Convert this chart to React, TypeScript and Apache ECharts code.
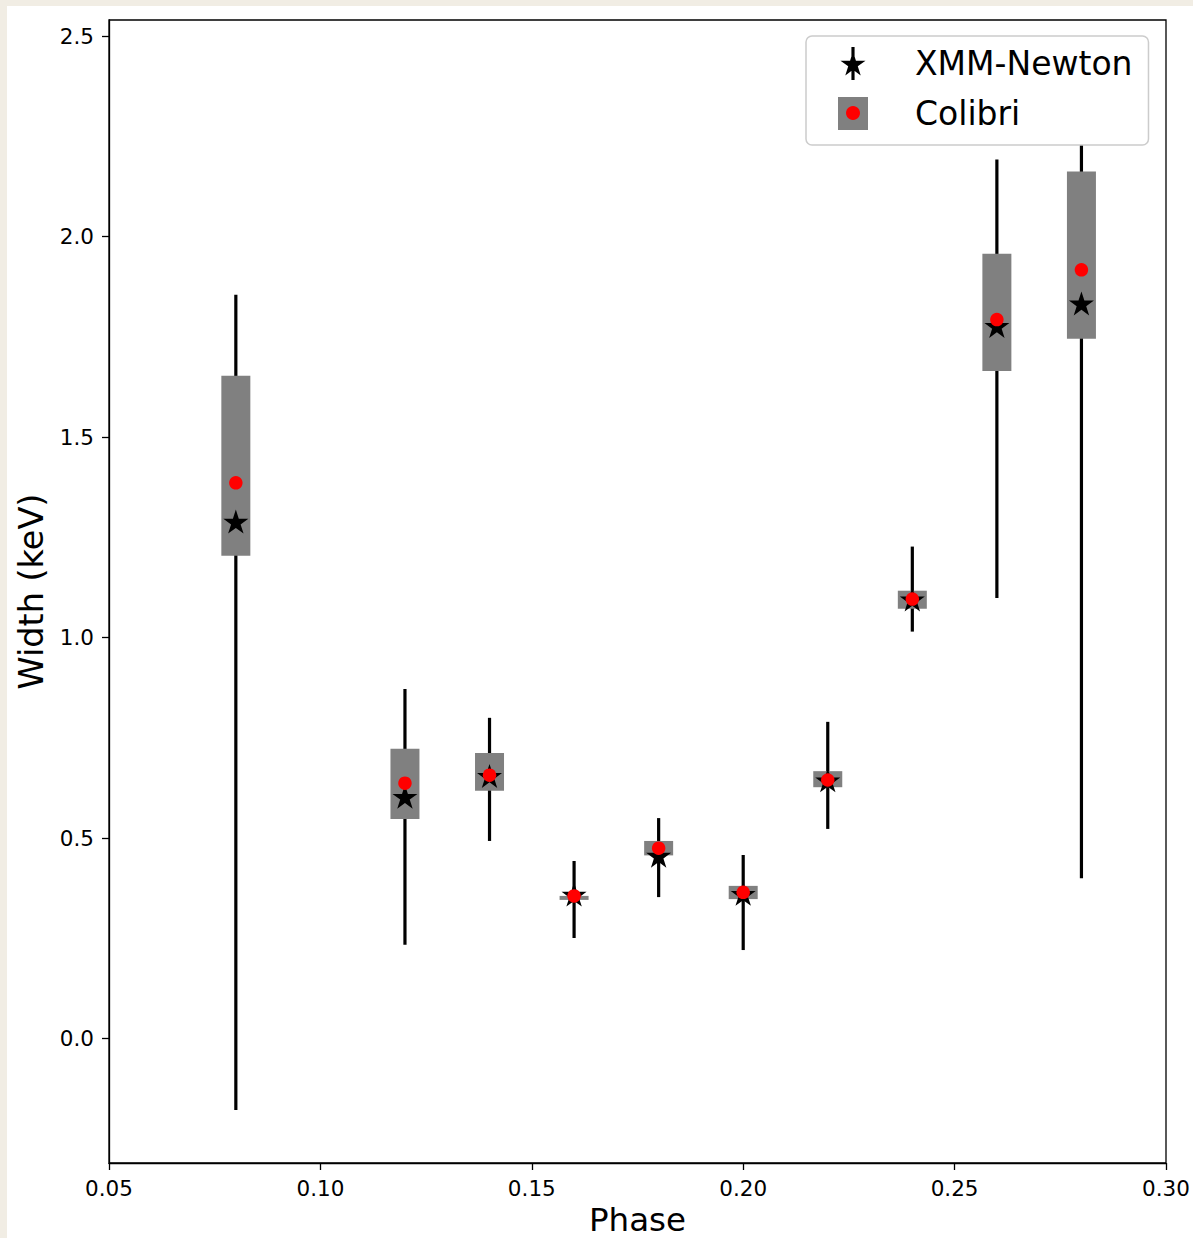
import React, { useEffect, useRef } from "react";
import * as echarts from "echarts";

// ---- data ----
const phases = [0.08, 0.12, 0.14, 0.16, 0.18, 0.2, 0.22, 0.24, 0.26, 0.28];
const xmmWidth = [1.286, 0.6, 0.652, 0.356, 0.453, 0.358, 0.641, 1.092, 1.774, 1.83];
const xmmLow = [-0.178, 0.234, 0.493, 0.251, 0.353, 0.221, 0.523, 1.015, 1.099, 0.4];
const xmmHigh = [1.855, 0.872, 0.8, 0.443, 0.55, 0.458, 0.79, 1.227, 2.192, 2.41];
const colibriWidth = [1.386, 0.637, 0.657, 0.356, 0.475, 0.365, 0.645, 1.096, 1.793, 1.917];
const colibriLow = [1.204, 0.548, 0.618, 0.346, 0.457, 0.348, 0.627, 1.072, 1.665, 1.745];
const colibriHigh = [1.653, 0.723, 0.712, 0.356, 0.493, 0.381, 0.667, 1.117, 1.957, 2.162];

const xTicks = [0.05, 0.1, 0.15, 0.2, 0.25, 0.3];
const yTicks = [0, 0.5, 1.0, 1.5, 2.0, 2.5];

const seriesNames = ["XMM-Newton", "Colibri"];
const axisNames = { x: "Phase", y: "Width (keV)" };

const STAR =
  "M100 0 L122.45 69.1 L195.11 69.1 L136.33 111.8 L158.78 180.9 L100 138.2 L41.22 180.9 L63.67 111.8 L4.89 69.1 L77.55 69.1 Z";
const STAR_LINE = STAR + " M88 -35 L112 -35 L112 216 L88 216 Z";

const FONT = "DejaVu Sans";

export default function App() {
  const ref = useRef<HTMLDivElement>(null);

  useEffect(() => {
    if (!ref.current) return;
    const chart = echarts.init(ref.current, undefined, { renderer: "svg" });

    const whiskerData = phases.map((p, i) => [p, xmmLow[i], xmmHigh[i]]);
    const boxData = phases.map((p, i) => [p, colibriLow[i], colibriHigh[i]]);

    const option: any = {
      animation: false,
      backgroundColor: "#ffffff",
      textStyle: { fontFamily: FONT },
      grid: {
        left: 102,
        top: 14,
        width: 1057,
        height: 1143,
        show: true,
        containLabel: false,
        outerBoundsMode: "none",
        borderColor: "#000",
        borderWidth: 1.3,
        backgroundColor: "transparent",
      },
      legend: {
        left: 799,
        top: 30,
        orient: "vertical",
        selectedMode: false,
        backgroundColor: "#ffffff",
        borderColor: "#cccccc",
        borderWidth: 1.5,
        borderRadius: 6,
        padding: [11, 16, 15, 32],
        itemWidth: 30,
        itemHeight: 33,
        itemGap: 17,
        textStyle: {
          fontFamily: FONT,
          fontSize: 33,
          color: "#000",
          lineHeight: 33,
          padding: [0, 0, 0, 42],
        },
        data: [
          { name: seriesNames[0], icon: "path://" + STAR_LINE, itemStyle: { color: "#000" } },
          { name: seriesNames[1], icon: "rect", itemStyle: { color: "#808080" } },
        ],
      },
      graphic: [
        {
          type: "circle",
          z: 100,
          shape: { cx: 846, cy: 107, r: 7 },
          style: { fill: "#ff0000" },
        },
      ],
      xAxis: {
        type: "value",
        min: 0.05,
        max: 0.3,
        name: axisNames.x,
        nameLocation: "middle",
        nameGap: 39,
        nameTextStyle: { fontFamily: FONT, fontSize: 32.5, color: "#000", lineHeight: 24 },
        axisLine: { show: true, onZero: false, lineStyle: { color: "#000", width: 1.3 } },
        axisTick: { show: true, length: 7, customValues: xTicks, lineStyle: { color: "#000", width: 1.3 } },
        axisLabel: {
          customValues: xTicks,
          margin: 14,
          fontFamily: FONT,
          fontSize: 21.5,
          color: "#000",
          formatter: (v: number) => v.toFixed(2),
        },
        splitLine: { show: false },
      },
      yAxis: {
        type: "value",
        min: -0.31,
        max: 2.54,
        name: axisNames.y,
        nameLocation: "middle",
        nameGap: 60,
        nameTextStyle: { fontFamily: FONT, fontSize: 33.5, color: "#000" },
        axisLine: { show: true, onZero: false, lineStyle: { color: "#000", width: 1.3 } },
        axisTick: { show: true, length: 7, customValues: yTicks, lineStyle: { color: "#000", width: 1.3 } },
        axisLabel: {
          customValues: yTicks,
          margin: 15,
          fontFamily: FONT,
          fontSize: 21.5,
          color: "#000",
          formatter: (v: number) => v.toFixed(1),
        },
        splitLine: { show: false },
      },
      series: [
        {
          name: "XMM-Newton error",
          type: "custom",
          z: 1,
          encode: { x: 0, y: [1, 2] },
          data: whiskerData,
          renderItem: (params: any, api: any) => {
            const x = api.value(0);
            const p1 = api.coord([x, api.value(1)]);
            const p2 = api.coord([x, api.value(2)]);
            return {
              type: "line",
              shape: { x1: p1[0], y1: p1[1], x2: p2[0], y2: p2[1] },
              style: { stroke: "#000", lineWidth: 3.2 },
            };
          },
        },
        {
          name: seriesNames[1],
          type: "custom",
          z: 2,
          itemStyle: { color: "#808080" },
          encode: { x: 0, y: [1, 2] },
          data: boxData,
          renderItem: (params: any, api: any) => {
            const x = api.value(0);
            const p1 = api.coord([x, api.value(1)]);
            const p2 = api.coord([x, api.value(2)]);
            return {
              type: "rect",
              shape: { x: p2[0] - 14.5, y: p2[1], width: 29, height: Math.max(p1[1] - p2[1], 1) },
              style: { fill: "#808080" },
            };
          },
        },
        {
          name: seriesNames[0],
          type: "scatter",
          z: 3,
          symbol: "path://" + STAR,
          symbolSize: [25, 24],
          symbolOffset: [0, -1.3],
          itemStyle: { color: "#000", opacity: 1 },
          data: phases.map((p, i) => [p, xmmWidth[i]]),
        },
        {
          name: "Colibri value",
          type: "scatter",
          z: 4,
          symbol: "circle",
          symbolSize: 13.5,
          itemStyle: { color: "#ff0000", opacity: 1 },
          data: phases.map((p, i) => [p, colibriWidth[i]]),
        },
      ],
    };

    chart.setOption(option);
    return () => chart.dispose();
  }, []);

  return (
    <div
      style={{
        position: "fixed",
        left: 0,
        top: 0,
        width: 1193,
        height: 1238,
        background: "#f1ede4",
        overflow: "hidden",
      }}
    >
      <div
        ref={ref}
        style={{ position: "absolute", left: 7, top: 6, width: 1186, height: 1232 }}
      />
    </div>
  );
}
